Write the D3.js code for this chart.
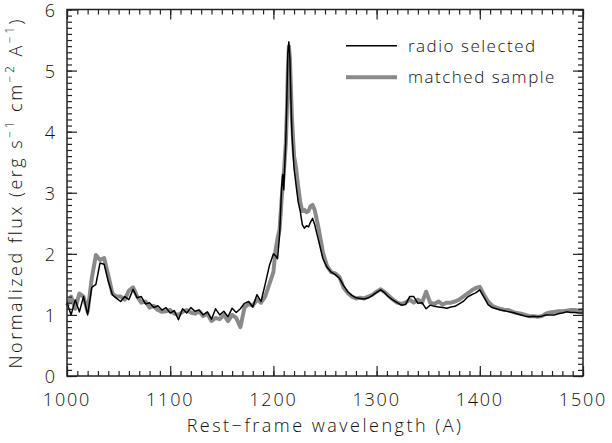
<!DOCTYPE html>
<html>
<head>
<meta charset="utf-8">
<script src="https://cdn.jsdelivr.net/npm/d3@7"></script>
<style>
  body { margin: 0; background: #fff; }
  text { font-family: "Open Sans", "Liberation Sans", sans-serif; font-weight: 300; fill: #111; }
</style>
</head>
<body>
<div id="chart"></div>
<script>
// Wavelength grid (A), finer around the Lyman-alpha peak
const wavelength = [
  1000,1004,1008,1012,1016,1020,1024,1028,1032,1036,
  1040,1044,1048,1052,1056,1060,1064,1068,1072,1076,
  1080,1084,1088,1092,1096,1100,1104,1108,1112,1116,
  1120,1124,1128,1132,1136,1140,1144,1148,1152,1156,
  1160,1164,1168,1172,1176,1180,1184,1188,1192,1196,
  1200,
  1202,1204,1206,1208,1209,1210,1212,1213,1214,1215,1216,1217,1218,
  1220,1222,1224,1226,1228,1230,1232,1234,1236,1238,1240,
  1244,1248,1252,1256,1260,1264,1268,1272,1276,1280,
  1284,1288,1292,1296,1300,1304,1308,1312,1316,1320,
  1324,1328,1332,1336,1340,1344,1348,1352,1356,1360,
  1364,1368,1372,1376,1380,1384,1388,1392,1396,1400,
  1404,1408,1412,1416,1420,1424,1428,1432,1436,1440,
  1444,1448,1452,1456,1460,1464,1468,1472,1476,1480,
  1484,1488,1492,1496,1500
];

// radio selected composite (black)
const radioFlux = [
  1.2,1.0,1.25,1.05,1.3,1.0,1.45,1.5,1.85,1.83,
  1.55,1.33,1.27,1.22,1.3,1.25,1.42,1.28,1.3,1.18,
  1.2,1.12,1.15,1.08,1.12,1.03,1.07,0.92,1.1,1.03,
  1.12,1.06,1.08,1.0,1.05,0.93,1.1,1.0,1.06,0.97,
  1.11,1.04,1.1,1.19,1.22,1.13,1.33,1.22,1.5,1.8,
  2.0,
  1.97,1.92,2.3,3.1,3.3,3.05,3.85,4.5,5.3,5.47,5.2,4.5,3.95,
  3.4,3.12,2.85,2.7,2.48,2.42,2.46,2.44,2.52,2.58,2.48,
  2.2,1.92,1.78,1.7,1.66,1.6,1.48,1.38,1.32,1.28,
  1.27,1.26,1.28,1.32,1.37,1.41,1.36,1.29,1.24,1.2,
  1.16,1.17,1.3,1.3,1.19,1.2,1.1,1.16,1.14,1.13,
  1.12,1.11,1.13,1.14,1.18,1.22,1.29,1.33,1.36,1.41,
  1.29,1.17,1.12,1.1,1.08,1.07,1.05,1.04,1.02,1.0,
  0.98,0.97,0.98,0.97,0.98,1.0,1.0,1.0,1.02,1.03,
  1.05,1.04,1.04,1.03,1.03
];

// matched sample composite (grey)
const matchedFlux = [
  1.15,1.3,1.1,1.35,1.3,1.05,1.6,1.98,1.9,1.93,
  1.65,1.35,1.3,1.3,1.25,1.4,1.45,1.3,1.2,1.22,
  1.12,1.15,1.08,1.05,1.06,1.08,1.02,1.0,1.05,1.08,
  1.04,1.02,1.06,0.98,1.02,0.9,0.95,0.93,1.0,0.9,
  1.0,0.95,0.8,1.12,1.18,1.15,1.25,1.2,1.3,1.5,
  1.7,
  2.05,2.25,2.4,2.9,3.1,3.3,3.8,4.3,5.0,5.4,5.2,4.7,4.2,
  3.6,3.4,3.1,2.85,2.7,2.72,2.68,2.7,2.78,2.8,2.72,
  2.4,2.02,1.8,1.7,1.68,1.62,1.45,1.36,1.3,1.27,
  1.28,1.27,1.3,1.33,1.38,1.42,1.37,1.31,1.25,1.2,
  1.18,1.2,1.25,1.2,1.25,1.2,1.38,1.2,1.18,1.22,
  1.17,1.2,1.2,1.22,1.25,1.3,1.35,1.4,1.44,1.46,
  1.33,1.22,1.15,1.12,1.1,1.08,1.08,1.05,1.03,1.02,
  1.0,0.98,0.98,0.97,0.98,1.02,1.04,1.05,1.06,1.06,
  1.07,1.08,1.08,1.07,1.08
];

const xTicks = [1000, 1100, 1200, 1300, 1400, 1500];
const yTicks = [0, 1, 2, 3, 4, 5, 6];
const seriesNames = ["radio selected", "matched sample"];

const W = 612, H = 443;
const margin = { top: 9.5, right: 29, bottom: 67, left: 67 };
const width = W - margin.left - margin.right;
const height = H - margin.top - margin.bottom;

const svg = d3.select("#chart").append("svg")
    .attr("width", W)
    .attr("height", H);

const g = svg.append("g")
    .attr("transform", "translate(" + margin.left + "," + margin.top + ")");

const x = d3.scaleLinear().domain([1000, 1500]).range([0, width]);
const y = d3.scaleLinear().domain([0, 6]).range([height, 0]);

// Spectra
const line = d3.line()
    .x(function (d) { return x(d[0]); })
    .y(function (d) { return y(d[1]); });

g.append("path")
    .datum(d3.zip(wavelength, matchedFlux))
    .attr("fill", "none")
    .attr("stroke", "#8a8a8a")
    .attr("stroke-width", 4)
    .attr("stroke-linejoin", "round")
    .attr("d", line);

g.append("path")
    .datum(d3.zip(wavelength, radioFlux))
    .attr("fill", "none")
    .attr("stroke", "#000")
    .attr("stroke-width", 1.5)
    .attr("stroke-linejoin", "round")
    .attr("d", line);

// Frame with inward ticks on all four sides
const axisColor = "#222";
const minorX = d3.range(1000, 1501, 10);
const minorY = d3.range(0, 61).map(function (v) { return v / 10; });

function inward(axis, len) {
    return axis.tickSize(len).tickSizeOuter(0).tickFormat("");
}

g.append("g").attr("transform", "translate(0," + height + ")")
    .call(inward(d3.axisTop(x).tickValues(minorX), 5));
g.append("g").attr("transform", "translate(0," + height + ")")
    .call(inward(d3.axisTop(x).tickValues(xTicks), 10));
g.append("g")
    .call(inward(d3.axisBottom(x).tickValues(minorX), 5));
g.append("g")
    .call(inward(d3.axisBottom(x).tickValues(xTicks), 10));
g.append("g")
    .call(inward(d3.axisRight(y).tickValues(minorY), 5));
g.append("g")
    .call(inward(d3.axisRight(y).tickValues(yTicks), 10));
g.append("g").attr("transform", "translate(" + width + ",0)")
    .call(inward(d3.axisLeft(y).tickValues(minorY), 5));
g.append("g").attr("transform", "translate(" + width + ",0)")
    .call(inward(d3.axisLeft(y).tickValues(yTicks), 10));

g.selectAll(".tick line").attr("stroke", axisColor).attr("stroke-width", 1.2);
g.selectAll(".domain").remove();

g.append("rect")
    .attr("width", width)
    .attr("height", height)
    .attr("fill", "none")
    .attr("stroke", axisColor)
    .attr("stroke-width", 1.5);

// Tick labels
g.selectAll(".xlab")
    .data(xTicks)
    .enter().append("text")
    .attr("x", function (d) { return x(d); })
    .attr("y", height + 30)
    .attr("text-anchor", "middle")
    .style("font-size", "18px")
    .style("letter-spacing", "1.8px")
    .text(function (d) { return d; });

g.selectAll(".ylab")
    .data(yTicks)
    .enter().append("text")
    .attr("x", -12)
    .attr("y", function (d) { return y(d) + 7; })
    .attr("text-anchor", "end")
    .style("font-size", "18px")
    .text(function (d) { return d; });

// Axis titles
g.append("text")
    .attr("x", width / 2)
    .attr("y", height + 56)
    .attr("text-anchor", "middle")
    .style("font-size", "18px")
    .style("letter-spacing", "2.5px")
    .text("Rest\u2212frame wavelength (A)");

const yTitle = g.append("text")
    .attr("transform", "translate(-45," + (height / 2) + ") rotate(-90)")
    .attr("text-anchor", "middle")
    .style("font-size", "18px")
    .style("letter-spacing", "2.5px");
yTitle.append("tspan").text("Normalized flux (erg s");
yTitle.append("tspan").attr("dy", -8).style("font-size", "12px").text("\u22121");
yTitle.append("tspan").attr("dy", 8).text(" cm");
yTitle.append("tspan").attr("dy", -8).style("font-size", "12px").text("\u22122");
yTitle.append("tspan").attr("dy", 8).text(" A");
yTitle.append("tspan").attr("dy", -8).style("font-size", "12px").text("\u22121");
yTitle.append("tspan").attr("dy", 8).text(")");

// Legend
const legend = g.append("g").attr("transform", "translate(279,36.2)");
const legendStyles = [
    { color: "#000", width: 1.5 },
    { color: "#8a8a8a", width: 4 }
];
seriesNames.forEach(function (name, i) {
    legend.append("line")
        .attr("x1", 0).attr("x2", 51)
        .attr("y1", i * 31.5).attr("y2", i * 31.5)
        .attr("stroke", legendStyles[i].color)
        .attr("stroke-width", legendStyles[i].width);
    legend.append("text")
        .attr("x", 62)
        .attr("y", i * 31.5 + 6)
        .style("font-size", "17px")
        .style("letter-spacing", "1.5px")
        .text(name);
});
</script>
</body>
</html>
